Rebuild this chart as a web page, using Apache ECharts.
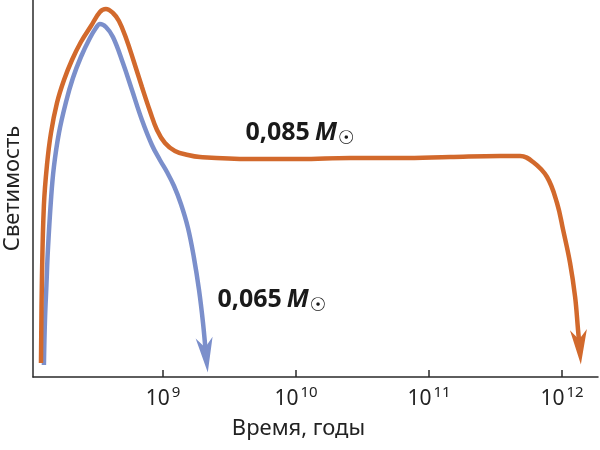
<!DOCTYPE html>
<html lang="ru">

<head>
    <meta charset="UTF-8">
    <title>Светимость коричневых карликов</title>
    <script src="https://cdn.jsdelivr.net/npm/echarts@6.0.0/dist/echarts.min.js"></script>
    <style>
        html, body { margin: 0; padding: 0; background: #fff; }
        #chart { width: 600px; height: 450px; }
    </style>
</head>

<body>
    <div id="chart"></div>

    <script>
        // lg(время, годы) и светимость (условные единицы)
        const heavyLogAge = [8.083, 8.090, 8.105, 8.128, 8.158, 8.203, 8.256, 8.316, 8.383, 8.459, 8.526, 8.571,
            8.624, 8.669, 8.722, 8.782, 8.842, 8.902, 8.955, 9.015, 9.090, 9.188, 9.278, 9.654, 10.030, 10.406,
            10.782, 11.158, 11.534, 11.684, 11.782, 11.887, 11.962, 12.008, 12.060, 12.098, 12.120, 12.132];
        const heavyLum = [14, 97, 172, 212, 244, 274, 297, 317, 335, 351, 365, 368,
            364, 356, 339, 315, 290, 266, 247, 234, 226, 222, 220, 218, 218, 219,
            219, 220, 221, 221, 215, 200, 174, 147, 114, 80, 47, 30];

        const lightLogAge = [8.105, 8.113, 8.124, 8.135, 8.158, 8.180, 8.218, 8.271, 8.323, 8.383, 8.451, 8.496,
            8.526, 8.571, 8.624, 8.699, 8.767, 8.842, 8.917, 8.977, 9.030, 9.083, 9.135, 9.188, 9.233, 9.271,
            9.301, 9.323];
        const lightLum = [12, 57, 92, 127, 177, 210, 244, 275, 299, 320, 339, 349,
            353, 350, 340, 314, 287, 257, 232, 217, 205, 191, 173, 149, 119, 87,
            54, 22];

        const tickPowers = [9, 10, 11, 12];
        const heavyLabel = { name: '0,085', at: [9.617, 244] };
        const lightLabel = { name: '0,065', at: [9.406, 77] };

        const ORANGE = '#d2692c';
        const BLUE = '#7b8fcb';
        const ARROW = 'path://M0,0 L8.5,10 L17,0 L8.5,35 Z';

        function buildData(xs, ys, rotate) {
            return xs.map((x, i) => {
                if (i === xs.length - 1) {
                    return {
                        value: [x, ys[i]],
                        symbol: ARROW,
                        symbolSize: [17, 35],
                        symbolRotate: rotate,
                        symbolKeepAspect: false
                    };
                }
                return { value: [x, ys[i]], symbol: 'none' };
            });
        }

        function massLabel(lbl) {
            return {
                silent: true,
                symbol: 'circle',
                symbolSize: 1,
                itemStyle: { color: 'rgba(0,0,0,0)' },
                data: [{
                    coord: lbl.at,
                    label: {
                        show: true,
                        position: 'right',
                        distance: 0,
                        formatter: `{n|${lbl.name}}{m|M}{s|☉}`,
                        rich: {
                            n: { fontFamily: 'Noto Sans', fontWeight: 'bold', fontSize: 25, color: '#1a1a1a', padding: [0, 5, 0, 0] },
                            m: { fontFamily: 'Noto Sans', fontWeight: 'bold', fontStyle: 'italic', fontSize: 25, color: '#1a1a1a' },
                            s: { fontFamily: 'DejaVu Sans', fontSize: 19, color: '#1a1a1a', padding: [12, 0, 0, 1] }
                        }
                    }
                }]
            };
        }

        const chart = echarts.init(document.getElementById('chart'));

        const option = {
            animation: false,
            grid: { left: 33, right: 2, top: 0, bottom: 73, containLabel: false, outerBoundsMode: 'none' },
            xAxis: {
                type: 'value',
                min: 8.023,
                max: 12.27,
                name: 'Время, годы',
                nameLocation: 'middle',
                nameGap: 41,
                nameTextStyle: { fontFamily: 'Noto Sans', fontSize: 22, color: '#222', padding: [0, 34, 0, 0] },
                axisLine: { lineStyle: { color: '#2a2a2a', width: 1.5 } },
                axisTick: { show: true, inside: true, length: 7, customValues: tickPowers, lineStyle: { color: '#2a2a2a', width: 1.5 } },
                axisLabel: {
                    customValues: tickPowers,
                    margin: 8,
                    formatter: v => `{b|10}{p|${v}}`,
                    rich: {
                        b: { fontFamily: 'Noto Sans', fontSize: 21, color: '#222' },
                        p: { fontFamily: 'Noto Sans', fontSize: 15, color: '#222', padding: [0, 0, 14, 2] }
                    }
                },
                splitLine: { show: false }
            },
            yAxis: {
                type: 'value',
                min: 0,
                max: 377,
                name: 'Светимость',
                nameLocation: 'middle',
                nameGap: 9,
                nameTextStyle: { fontFamily: 'Noto Sans', fontSize: 22, color: '#222' },
                axisLine: { show: true, lineStyle: { color: '#2a2a2a', width: 1.5 } },
                axisTick: { show: false },
                axisLabel: { show: false },
                splitLine: { show: false }
            },
            series: [
                {
                    name: '0,085',
                    type: 'line',
                    smooth: 0.4,
                    showSymbol: true,
                    symbol: 'none',
                    data: buildData(heavyLogAge, heavyLum, 4),
                    lineStyle: { color: ORANGE, width: 4.5 },
                    itemStyle: { color: ORANGE },
                    markPoint: massLabel(heavyLabel),
                    z: 3
                },
                {
                    name: '0,065',
                    type: 'line',
                    smooth: 0.4,
                    showSymbol: true,
                    symbol: 'none',
                    data: buildData(lightLogAge, lightLum, 6),
                    lineStyle: { color: BLUE, width: 4.5 },
                    itemStyle: { color: BLUE },
                    markPoint: massLabel(lightLabel),
                    z: 2
                }
            ]
        };

        chart.setOption(option);
    </script>
</body>

</html>
